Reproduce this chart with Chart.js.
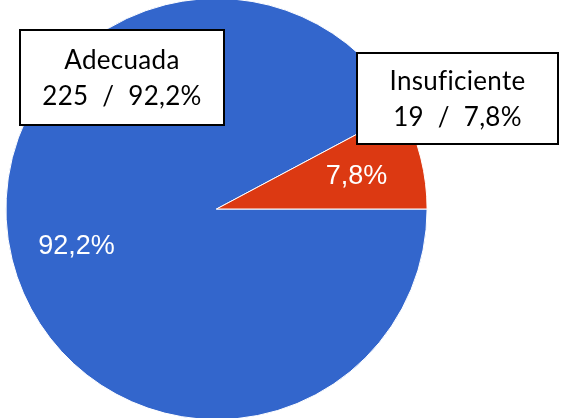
<!DOCTYPE html>
<html>
<head>
<meta charset="utf-8">
<script src="https://cdn.jsdelivr.net/npm/chart.js@4.4.0/dist/chart.umd.min.js"></script>
<style>
  body { margin: 0; background: #fff; }
  #wrap { width: 561px; height: 418px; position: relative; }
</style>
</head>
<body>
<div id="wrap"><canvas id="pieChart"></canvas></div>
<script>
// data
var labels = ['Adecuada', 'Insuficiente'];
var counts = [225, 19];
var colors = ['#3366CC', '#DC3912'];

var total = counts.reduce(function (a, b) { return a + b; }, 0);
function pct(v) {
  return (v / total * 100).toFixed(1).replace('.', ',') + '%';
}

// callout boxes (x, y, w, h) per slice
var boxes = [
  [20, 30, 204, 95],
  [357, 53, 201, 91]
];

var labelPlugin = {
  id: 'sliceLabels',
  afterDatasetsDraw: function (chart) {
    var ctx = chart.ctx;
    var meta = chart.getDatasetMeta(0);
    ctx.save();
    // percentages inside slices
    ctx.fillStyle = '#ffffff';
    ctx.font = '27px "Liberation Sans", Arial, sans-serif';
    ctx.textAlign = 'center';
    ctx.textBaseline = 'alphabetic';
    meta.data.forEach(function (arc, i) {
      var p = arc.getProps(['x', 'y', 'startAngle', 'endAngle', 'outerRadius'], true);
      var mid = (p.startAngle + p.endAngle) / 2;
      var r = p.outerRadius * 0.685;
      var x = p.x + Math.cos(mid) * r;
      var y = p.y + Math.sin(mid) * r;
      ctx.fillText(pct(counts[i]), x, y + 10);
    });
    // callout boxes
    ctx.font = '26px Lato, "Open Sans", sans-serif';
    ctx.textRendering = 'optimizeSpeed'; // no fi ligature
    ctx.letterSpacing = '0.3px';
    boxes.forEach(function (b, i) {
      ctx.fillStyle = '#ffffff';
      ctx.fillRect(b[0], b[1], b[2], b[3]);
      ctx.lineWidth = 2;
      ctx.strokeStyle = '#000000';
      ctx.strokeRect(b[0], b[1], b[2], b[3]);
      ctx.fillStyle = '#000000';
      var cx = b[0] + b[2] / 2;
      var cy = b[1] + b[3] / 2;
      ctx.fillText(labels[i], cx, cy - 9);
      ctx.fillText(counts[i] + '  /  ' + pct(counts[i]), cx, cy + 27);
    });
    ctx.restore();
  }
};

var ctx = document.getElementById('pieChart').getContext('2d');
var chart = new Chart(ctx, {
  type: 'pie',
  data: {
    labels: labels,
    datasets: [{
      data: counts,
      backgroundColor: colors,
      borderColor: '#ffffff',
      borderWidth: 1,
      radius: '101%'
    }]
  },
  options: {
    responsive: true,
    maintainAspectRatio: false,
    animation: false,
    events: [],
    rotation: 90,
    layout: {
      padding: { left: 6, right: 134, top: 0, bottom: 0 }
    },
    plugins: {
      legend: { display: false },
      tooltip: { enabled: false }
    }
  },
  plugins: [labelPlugin]
});
</script>
</body>
</html>
